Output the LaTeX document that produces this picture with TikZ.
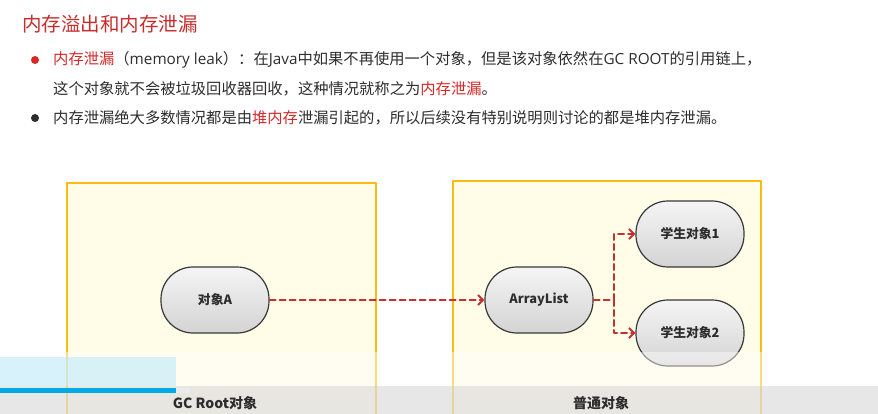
\documentclass[tikz,border=0pt]{standalone}
\usepackage{fontspec}
\setmainfont{Noto Sans CJK SC}
\newfontfamily\latinfont{Open Sans}
\usepackage{tikz}
\usetikzlibrary{arrows.meta}
\definecolor{ColTitle}{RGB}{200,45,45}
\definecolor{ColRed}{RGB}{215,40,40}
\definecolor{ColText}{RGB}{45,45,45}
\definecolor{ColFrame}{RGB}{250,188,20}
\definecolor{ColPanel}{RGB}{255,252,232}
\definecolor{ColLink}{RGB}{195,50,50}
\definecolor{ColBar}{RGB}{0,170,230}
\newcommand{\lat}[1]{{\latinfont #1}}

\begin{document}
\begin{tikzpicture}[
  x=1pt, y=-1pt,
  >={Straight Barb[length=5pt,width=10pt]},
  line cap=round,
  line join=round,
  every node/.style={text=ColText},
  panel/.style={draw=ColFrame, line width=2.8pt, fill=ColPanel},
  obj/.style={draw=black!78, line width=1.2pt, rounded corners=32pt,
    top color=black!4, bottom color=black!17,
    minimum width=108pt, minimum height=66pt, inner sep=0pt,
    font=\fontsize{12.8}{14}\selectfont\bfseries},
  link/.style={->, ColLink, line width=2pt, dash pattern=on 6pt off 4pt},
  line/.style={anchor=west, inner sep=0pt, font=\fontsize{15.3}{18}\selectfont},
  tag/.style={inner sep=0pt, font=\fontsize{14}{16}\selectfont\bfseries}
]
  \clip (0,0) rectangle (878,414);
  \fill[white] (0,0) rectangle (878,414);

  % Heading and the two bullet points
  \node[anchor=west, inner sep=0pt, text=ColTitle, font=\fontsize{19.5}{22}\selectfont]
    (title) at (22,24) {内存溢出和内存泄漏};
  \fill[ColRed] (35,60) circle (4pt);
  \fill[ColText] (35,118) circle (4pt);
  \node[line] (l1) at (53,60)
    {\textcolor{ColRed}{内存泄漏}（\lat{memory leak}）：在\lat{Java}中如果不再使用一个对象，但是该对象依然在\lat{GC ROOT}的引用链上，};
  \node[line] (l2) at (53,89)
    {这个对象就不会被垃圾回收器回收，这种情况就称之为\textcolor{ColRed}{内存泄漏}。};
  \node[line] (l3) at (53,118)
    {内存泄漏绝大多数情况都是由\textcolor{ColRed}{堆内存}泄漏引起的，所以后续没有特别说明则讨论的都是堆内存泄漏。};

  % Panels
  \draw[panel] (67,183) rectangle (376,430);
  \draw[panel] (453,181) rectangle (761,430);

  % Objects
  \node[obj] (objA) at (215,300) {对象A};
  \node[obj] (list) at (539,300) {ArrayList};
  \node[obj] (stu1) at (690,234) {学生对象1};
  \node[obj] (stu2) at (690,333) {学生对象2};
  \coordinate (fork) at (614,300);

  % References
  \draw[link] (objA) -- (list);
  \draw[link, -] (list) -- (fork);
  \draw[link] (fork) |- (stu1);
  \draw[link] (fork) |- (stu2);

  % Player overlay along the bottom
  \fill[white, opacity=0.45] (0,352) rectangle (878,386);
  \fill[cyan!25, opacity=0.6] (0,357) rectangle (176,386);
  \fill[black!13, opacity=0.7] (0,386) rectangle (878,414);
  \fill[black!8] (176,388) rectangle (190,393);
  \fill[ColBar] (0,388) rectangle (176,393);

  \node[tag] (rootTag) at (215,403) {GC Root对象};
  \node[tag] (plainTag) at (601,403) {普通对象};
\end{tikzpicture}
\end{document}
